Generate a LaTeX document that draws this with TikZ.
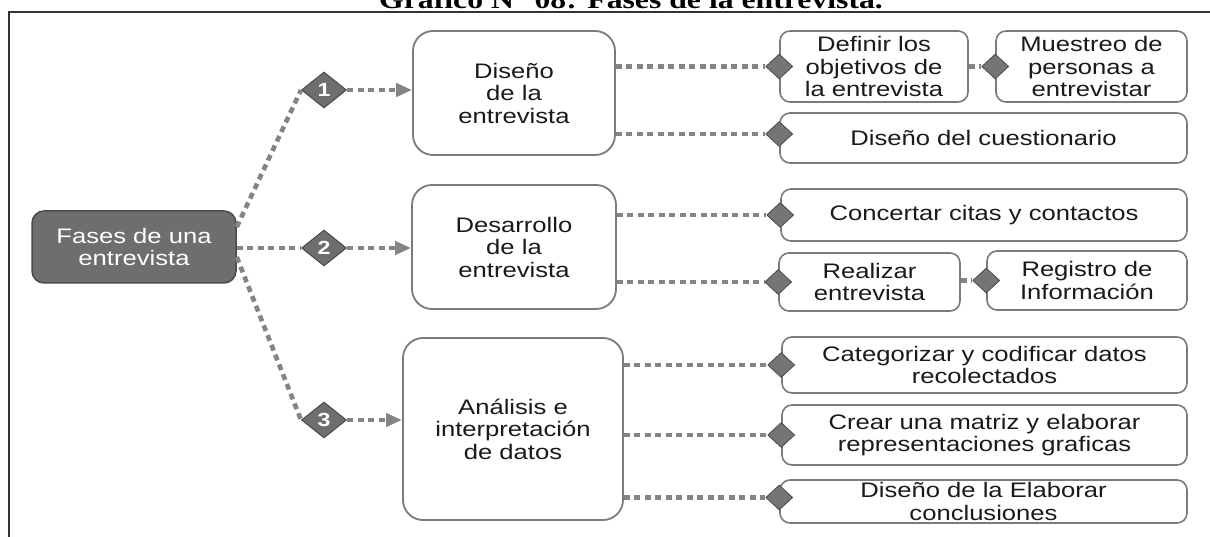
\documentclass[tikz,border=0pt]{standalone}
\usepackage{fontspec}
\setmainfont[FakeStretch=1.22]{Liberation Sans}
\newfontfamily\titlefont[FakeStretch=1.22]{Liberation Serif}
\usepackage{xcolor}
\usepackage{tikz}
\usetikzlibrary{arrows.meta,positioning,calc,shapes.geometric}

\definecolor{dotgray}{HTML}{848484}
\definecolor{boxgray}{HTML}{7A7A7A}
\definecolor{rootgray}{HTML}{6E6E6E}
\definecolor{edgegray}{HTML}{4A4A4A}
\definecolor{txtblack}{HTML}{1A1A1A}

\begin{document}
\begin{tikzpicture}[
    x=1pt, y=-1pt,
    font=\fontsize{21}{22.5}\selectfont,
    % thick dotted connectors
    link/.style={draw=dotgray, line width=4.6pt, dash pattern=on 6pt off 4.5pt},
    tip/.style={-{Triangle[length=16pt,width=13pt]}},
    % root box
    root/.style={draw=edgegray, fill=rootgray, line width=1.5pt, rounded corners=12pt,
      text=white, align=center, inner sep=0pt, minimum width=204pt, minimum height=72pt},
    % the three phases
    phase/.style={draw=boxgray, fill=white, line width=1.8pt, rounded corners=20pt,
      text=txtblack, align=center, inner sep=0pt},
    % leaf boxes on the right
    item/.style={draw=boxgray, fill=white, line width=1.6pt, rounded corners=10pt,
      text=txtblack, align=center, inner sep=0pt},
    % numbered diamonds
    num/.style={diamond, draw=edgegray, fill=rootgray, line width=1pt, inner sep=0pt,
      minimum width=45pt, minimum height=36pt, text=white, font=\fontsize{19}{19}\selectfont\bfseries},
    % small diamonds on the leaf boxes
    tick/.style={diamond, draw=edgegray, fill=rootgray!95!white, line width=0.8pt, inner sep=0pt,
      minimum width=27pt, minimum height=25pt},
  ]
  \useasboundingbox (0,0) rectangle (1210,537);

  % caption (cut by the page top) and frame
  \node[anchor=base, font=\titlefont\fontsize{26}{26}\selectfont\bfseries] (title) at (631,9)
    {Gráfico N° 08: Fases de la entrevista.};
  \draw[line width=2pt, black!80] (9,537) -- (9,12) -- (1210,12);

  \node[root] (root) at (134,247) {Fases de una\\entrevista};

  \node[num] (d1) at (324,90) {1};
  \node[num] (d2) at (324,248) {2};
  \node[num] (d3) at (324,420) {3};

  \node[phase, minimum width=202pt, minimum height=124pt] (dis) at (514,93) {Diseño\\de la\\entrevista};
  \node[phase, minimum width=204pt, minimum height=124pt] (des) at (514,247) {Desarrollo\\de la\\entrevista};
  \node[phase, minimum width=220pt, minimum height=182pt] (ana) at (513,429) {Análisis e\\interpretación\\de datos};

  % leaves of Diseño
  \node[item, minimum width=188pt, minimum height=71pt] (def) at (874,66.5) {Definir los\\objetivos de\\la entrevista};
  \node[item, minimum width=191pt, minimum height=71pt] (mue) at (1091.5,66.5) {Muestreo de\\personas a\\entrevistar};
  \node[item, minimum width=407pt, minimum height=50pt] (cue) at (983.5,138) {Diseño del cuestionario};
  % leaves of Desarrollo
  \node[item, minimum width=406pt, minimum height=52pt] (con) at (984,215) {Concertar citas y contactos};
  \node[item, minimum width=181pt, minimum height=58pt] (rea) at (869.5,282) {Realizar\\entrevista};
  \node[item, minimum width=200pt, minimum height=59pt] (reg) at (1087,280.5) {Registro de\\Información};
  % leaves of Análisis
  \node[item, minimum width=405pt, minimum height=56pt] (cat) at (984.5,365) {Categorizar y codificar datos\\recolectados};
  \node[item, minimum width=405pt, minimum height=60pt] (cre) at (984.5,435) {Crear una matriz y elaborar\\representaciones graficas};
  \node[item, minimum width=407pt, minimum height=43pt] (ela) at (983.5,501.5) {Diseño de la Elaborar\\conclusiones};

  \node[tick] (k1) at (def.west) {};
  \node[tick] (k2) at (mue.west) {};
  \node[tick, yshift=4pt] (k3) at (cue.west) {};
  \node[tick] (k4) at (con.west) {};
  \node[tick] (k5) at (rea.west) {};
  \node[tick] (k6) at (reg.west) {};
  \node[tick] (k7) at (cat.west) {};
  \node[tick] (k8) at (cre.west) {};
  \node[tick, yshift=4pt] (k9) at (ela.west) {};

  % root to the numbered diamonds
  \draw[link] ($(root.east)+(0,-20)$) -- (d1.west);
  \draw[link] (root.east |- d2.west) -- (d2.west);
  \draw[link] ($(root.east)+(0,10)$) -- (d3.west);

  \draw[link, tip] (d1.east) -- (d1.east -| dis.west);
  \draw[link, tip] (d2.east) -- (d2.east -| des.west);
  \draw[link, tip] (d3.east) -- (d3.east -| ana.west);

  % phases to their leaves
  \draw[link] (dis.east |- k1.west) -- (k1.west);
  \draw[link] (def.east |- k2.west) -- (k2.west);
  \draw[link] (dis.east |- k3.west) -- (k3.west);
  \draw[link] (des.east |- k4.west) -- (k4.west);
  \draw[link] (des.east |- k5.west) -- (k5.west);
  \draw[link] (rea.east |- k6.west) -- (k6.west);
  \draw[link] (ana.east |- k7.west) -- (k7.west);
  \draw[link] (ana.east |- k8.west) -- (k8.west);
  \draw[link] (ana.east |- k9.west) -- (k9.west);
\end{tikzpicture}
\end{document}
